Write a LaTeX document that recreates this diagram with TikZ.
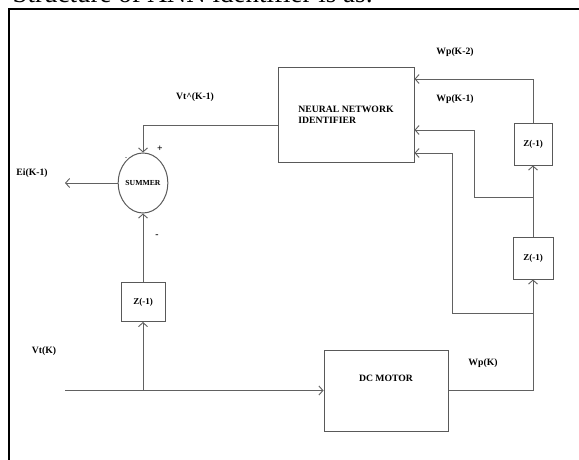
\documentclass[tikz,border=0pt]{standalone}
\usepackage{fontspec}
\setmainfont{Liberation Serif}
\usetikzlibrary{positioning,arrows.meta,shapes.geometric}

\begin{document}
\begin{tikzpicture}[
  x=1pt,y=-1pt,
  font=\fontsize{9.7}{11}\selectfont\bfseries,
  blk/.style={draw=black!65,line width=1pt,inner sep=0pt},
  zbox/.style={draw=black!65,line width=1pt,minimum width=40pt,minimum height=41pt,inner sep=0pt,font=\fontsize{9}{10}\selectfont\bfseries},
  sumnode/.style={ellipse,draw=black!65,line width=1pt,inner sep=0pt,font=\fontsize{7.7}{9}\selectfont\bfseries},
  wire/.style={draw=black!62,line width=0.9pt,-{Straight Barb[length=4pt,width=9pt]}},
]
  \useasboundingbox (0,0) rectangle (579,460);
  \fill[white] (0,0) rectangle (579,460);
  \node[anchor=base west,font=\fontsize{27}{30}\selectfont] (title) at (9,3) {Structure of ANN identifier is as:};
  \draw[line width=2pt] (9,462) -- (9,9) -- (581,9);

  % blocks
  \node[blk,minimum width=136pt,minimum height=94pt,align=left] (nn) at (346,115) {NEURAL NETWORK\\IDENTIFIER};
  \node[sumnode,minimum width=42pt,minimum height=60pt] (sum) at (143,183) {SUMMER};
  \node[zbox,minimum width=44pt,minimum height=39pt] (zl) at (143,302) {Z(-1)};
  \node[zbox,minimum width=38pt] (zu) at (533,144.5) {Z(-1)};
  \node[zbox,minimum height=42pt] (zm) at (533,258) {Z(-1)};
  \node[blk,minimum width=124pt,minimum height=81pt,label={[yshift=12pt]center:DC MOTOR}] (motor) at (386,390.5) {};

  % signal labels
  \node (vthat) at (195,97) {Vt\textasciicircum(K-1)};
  \node (wp2) at (455,52) {Wp(K-2)};
  \node (wp1) at (455,99) {Wp(K-1)};
  \node (ei) at (32,173) {Ei(K-1)};
  \node (vt) at (44,351) {Vt(K)};
  \node (wp) at (483,363) {Wp(K)};
  \node (plus) at (160,149) {+};
  \node[font=\fontsize{6}{7}\selectfont] (mtop) at (126,159) {-};
  \node (mbot) at (157,236) {-};

  \coordinate (vtin) at (65,390.5);
  \coordinate (tap) at (143,390.5);
  \coordinate (eiout) at (65,183);
  \coordinate (j1) at (533,313);
  \coordinate (c3) at (452,153);
  \coordinate (j2) at (533,197);
  \coordinate (c2) at (474,130);

  % connectors
  \draw[wire] ([yshift=-10pt]nn.west) -| (sum.north);
  \draw[wire] (sum.west) -- (eiout);
  \draw[wire] (zl.north) -- (sum.south);
  \draw[wire] (vtin) -- (motor.west);
  \draw[wire] (tap) -- (zl.south);
  \draw[wire] (motor.east) -| (zm.south);
  \draw[wire] (j1) -| (c3) -- (c3 -| nn.east);
  \draw[wire] (zm.north) -- (j2) -| (c2) -- (c2 -| nn.east);
  \draw[wire] (j2) -- (zu.south);
  \draw[wire] (zu.north) |- ([yshift=36pt]nn.east);
\end{tikzpicture}
\end{document}
